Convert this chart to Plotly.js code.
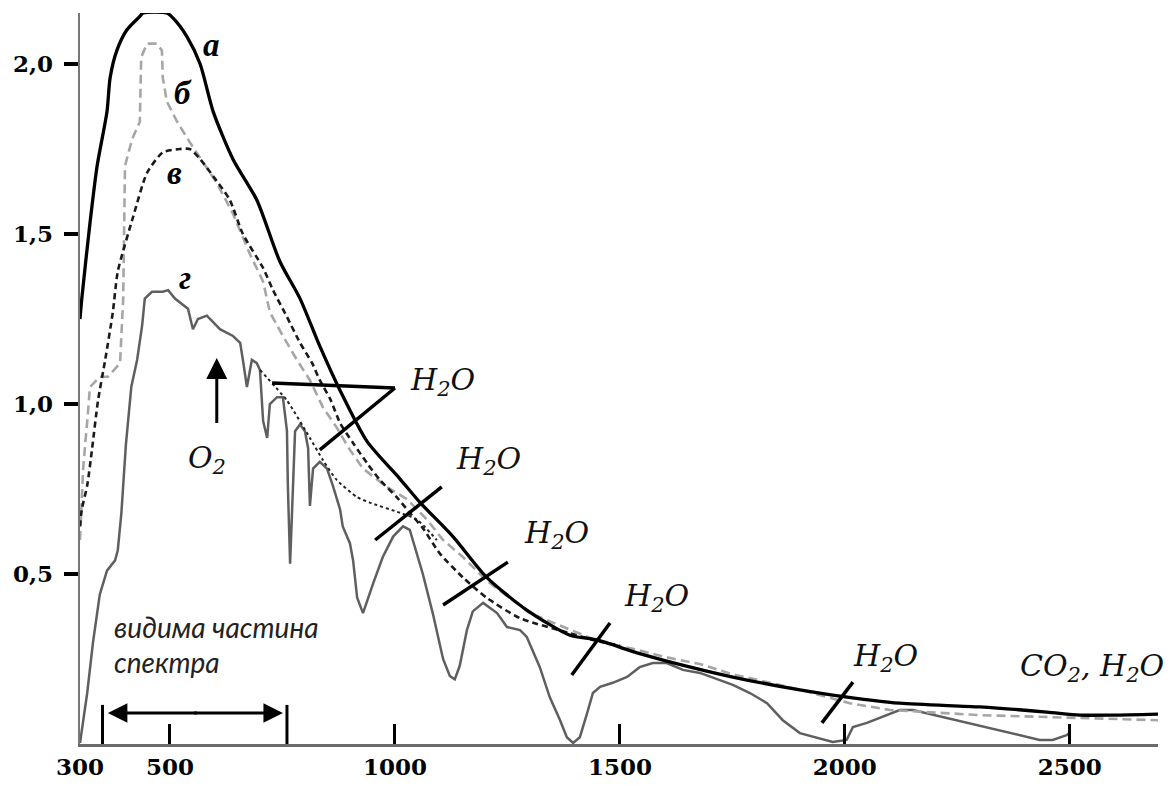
<!DOCTYPE html>
<html>
<head>
<meta charset="utf-8">
<script src="https://cdn.plot.ly/plotly-3.0.1.min.js"></script>
<style>html,body{margin:0;padding:0;background:#fff;}#chart{width:1172px;height:785px;}</style>
</head>
<body>
<div id="chart"></div>
<script>
// Curve а (solid black)
const aX = [300,304,322,338,360,367,382,404,433,440,493,507,538,567,596,640,693,744,789,833,878,938,1011,1056,1129,1204,1293,1389,1449,1538,1604,1751,1900,1973,2122,2300,2449,2522,2596,2696];
const aY = [1.25,1.31,1.53,1.70,1.86,1.96,2.04,2.10,2.14,2.15,2.15,2.135,2.08,2.00,1.86,1.72,1.60,1.42,1.31,1.17,1.04,0.89,0.78,0.71,0.61,0.49,0.394,0.32,0.306,0.268,0.244,0.197,0.159,0.144,0.12,0.109,0.094,0.085,0.085,0.088];
// Curve б (grey dashed)
const bX = [300,307,318,322,344,362,389,396,400,416,433,436,449,471,482,484,493,516,544,573,604,640,678,707,722,751,782,811,840,871,900,929,982,1027,1071,1107,1151,1204,1300,1456,1529,1604,1678,1751,1900,2011,2100,2300,2522,2696];
const bY = [0.60,0.81,0.98,1.05,1.08,1.08,1.12,1.31,1.70,1.78,1.83,2.02,2.06,2.06,2.04,1.96,1.89,1.83,1.77,1.71,1.65,1.56,1.44,1.36,1.27,1.20,1.13,1.07,0.99,0.93,0.865,0.81,0.756,0.72,0.66,0.60,0.55,0.48,0.385,0.30,0.28,0.255,0.235,0.205,0.16,0.12,0.10,0.085,0.076,0.07];
// Curve в (black dashed)
const cX = [300,304,316,327,340,356,373,384,418,449,484,522,544,567,596,633,662,707,729,760,789,816,833,856,878,907,938,967,1004,1033,1062,1100,1151,1204,1278,1389,1440,1500];
const cY = [0.64,0.69,0.76,0.87,1.01,1.13,1.27,1.39,1.55,1.68,1.74,1.75,1.75,1.72,1.67,1.60,1.50,1.40,1.335,1.256,1.18,1.12,1.07,1.015,0.944,0.885,0.826,0.776,0.726,0.68,0.635,0.56,0.49,0.43,0.37,0.326,0.306,0.29];
// Dotted envelope below в
const dX = [700,760,811,840,871,916,944,1011,1049,1093];
const dY = [1.10,1.01,0.90,0.835,0.776,0.726,0.71,0.68,0.66,0.60];
// Curve г (solid grey)
const gX = [300,316,329,344,360,378,384,392,402,414,427,438,444,460,484,496,511,540,551,562,582,611,640,656,662,671,682,693,700,707,716,722,738,751,760,762,767,773,778,789,800,807,811,818,833,849,862,878,884,900,907,916,929,951,973,996,1018,1033,1044,1062,1084,1107,1122,1133,1144,1160,1173,1196,1227,1249,1278,1293,1322,1344,1367,1382,1396,1411,1427,1440,1456,1484,1516,1544,1573,1604,1640,1678,1751,1789,1827,1862,1900,1938,1973,2004,2018,2049,2084,2122,2151,2227,2300,2373,2433,2462,2493,2500];
const gY = [0.003,0.15,0.30,0.44,0.51,0.54,0.57,0.68,0.88,1.05,1.13,1.23,1.31,1.33,1.33,1.335,1.31,1.28,1.22,1.25,1.26,1.22,1.20,1.18,1.13,1.05,1.13,1.12,1.10,0.95,0.90,1.00,1.02,1.02,0.92,0.76,0.53,0.78,0.92,0.94,0.92,0.87,0.70,0.81,0.83,0.81,0.76,0.69,0.64,0.59,0.54,0.43,0.385,0.47,0.55,0.61,0.64,0.63,0.58,0.50,0.385,0.25,0.20,0.19,0.23,0.335,0.39,0.415,0.385,0.344,0.335,0.315,0.226,0.138,0.07,0.02,0.003,0.02,0.09,0.15,0.168,0.18,0.197,0.226,0.238,0.238,0.218,0.209,0.174,0.15,0.12,0.07,0.032,0.018,0.006,0.012,0.05,0.062,0.08,0.10,0.10,0.076,0.053,0.032,0.012,0.012,0.026,0.032];

// Axis ticks
const xTickVals = [300,500,1000,1500,2000,2500];
const xTickText = ['300','500','1000','1500','2000','2500'];
const yTickVals = [0.5,1.0,1.5,2.0];
const yTickText = ['0,5','1,0','1,5','2,0'];

// Curve labels
const curveLabels = ['а','б','в','г'];
const curveLabelX = [593,529,511,533];
const curveLabelY = [2.055,1.915,1.68,1.37];

// Absorption labels
const bandLabels = ['H<sub>2</sub>O','H<sub>2</sub>O','H<sub>2</sub>O','H<sub>2</sub>O','H<sub>2</sub>O','CO<sub>2</sub>, H<sub>2</sub>O','O<sub>2</sub>'];
const bandLabelX = [1106,1209,1360,1582,2090,2549,582];
const bandLabelY = [1.067,0.835,0.615,0.430,0.255,0.226,0.838];

// Band marker strokes [x0,y0,x1,y1]
const bandMarks = [
  [727,1.062,1000,1.047],
  [1000,1.047,833,0.865],
  [956,0.600,1104,0.756],
  [1107,0.409,1251,0.535],
  [1393,0.203,1478,0.356],
  [1949,0.062,2018,0.182]
];
// visible range
const visibleRange = [350,760];
const visibleText = ['видима частина','спектра'];

const traces = [
  {x:gX,y:gY,mode:'lines',line:{color:'#5f5f5f',width:2.5},hoverinfo:'skip'},
  {x:dX,y:dY,mode:'lines',line:{color:'#222',width:2,dash:'3px,3px',shape:'spline',smoothing:0.6},hoverinfo:'skip'},
  {x:bX,y:bY,mode:'lines',line:{color:'#a6a6a6',width:2.6,dash:'9px,5px'},hoverinfo:'skip'},
  {x:cX,y:cY,mode:'lines',line:{color:'#1a1a1a',width:2.6,dash:'6px,4px',shape:'spline',smoothing:0.6},hoverinfo:'skip'},
  {x:aX,y:aY,mode:'lines',line:{color:'#000',width:3.3,shape:'spline',smoothing:0.7},hoverinfo:'skip'}
];

const shapes = bandMarks.map(m=>({type:'line',xref:'x',yref:'y',x0:m[0],y0:m[1],x1:m[2],y1:m[3],line:{color:'#000',width:3.5}}));
visibleRange.forEach(v=>shapes.push({type:'line',xref:'x',yref:'y',x0:v,y0:0,x1:v,y1:0.115,line:{color:'#000',width:3}}));

const annotations = [];
curveLabels.forEach((t,i)=>annotations.push({x:curveLabelX[i],y:curveLabelY[i],text:t,showarrow:false,xref:'x',yref:'y',
  font:{family:'Liberation Serif',size:33,color:'#000',weight:'bold',style:'italic'}}));
bandLabels.forEach((t,i)=>annotations.push({x:bandLabelX[i],y:bandLabelY[i],text:t,showarrow:false,xref:'x',yref:'y',
  font:{family:'DejaVu Serif',size:30,color:'#111',style:'italic'}}));
// O2 arrow
annotations.push({x:604,y:1.135,ax:0,ay:75,text:' ',showarrow:true,arrowhead:2,arrowsize:1.4,arrowwidth:3,arrowcolor:'#000',xref:'x',yref:'y'});
// visible-range arrows
annotations.push({x:362,y:0.091,ax:92,ay:0,text:' ',showarrow:true,arrowhead:2,arrowsize:1.3,arrowwidth:3,arrowcolor:'#000',xref:'x',yref:'y'});
annotations.push({x:751,y:0.091,ax:-92,ay:0,text:' ',showarrow:true,arrowhead:2,arrowsize:1.3,arrowwidth:3,arrowcolor:'#000',xref:'x',yref:'y'});
annotations.push({x:371,y:0.345,text:visibleText[0],showarrow:false,xanchor:'left',xref:'x',yref:'y',
  font:{family:'Lato',size:28,color:'#222',style:'italic'}});
annotations.push({x:371,y:0.24,text:visibleText[1],showarrow:false,xanchor:'left',xref:'x',yref:'y',
  font:{family:'Lato',size:28,color:'#222',style:'italic'}});

const layout = {
  width:1172,height:785,
  margin:{l:80,r:14,t:13,b:41},
  paper_bgcolor:'#fff',plot_bgcolor:'#fff',
  showlegend:false,
  xaxis:{range:[300,2696],tickvals:xTickVals,ticktext:xTickText,ticks:'inside',ticklen:20,tickwidth:3,tickcolor:'#000',
    showline:true,linecolor:'#6a6a6a',linewidth:3,showgrid:false,zeroline:false,
    tickfont:{family:'DejaVu Serif',size:23,color:'#000',weight:'bold'}},
  yaxis:{range:[0,2.15],tickvals:yTickVals,ticktext:yTickText,ticks:'outside',ticklen:14,tickwidth:4,tickcolor:'#000',
    showline:true,linecolor:'#777',linewidth:2.5,showgrid:false,zeroline:false,ticklabelstandoff:6,
    tickfont:{family:'DejaVu Serif',size:23,color:'#000',weight:'bold'}},
  shapes:shapes,
  annotations:annotations
};
Plotly.newPlot('chart',traces,layout,{displayModeBar:false,staticPlot:true});
</script>
</body>
</html>
